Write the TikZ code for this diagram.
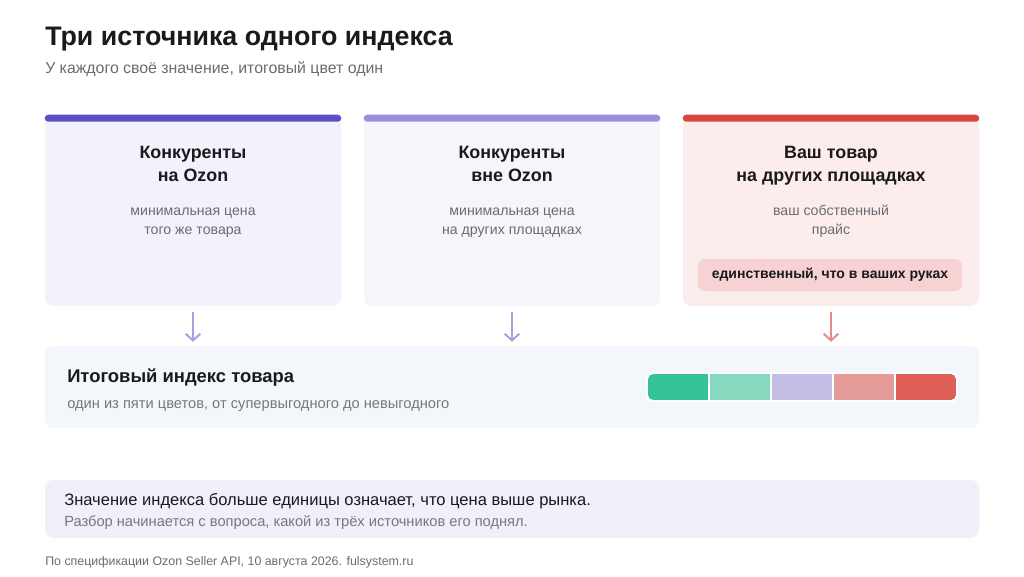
\documentclass[tikz,border=0pt]{standalone}
\usepackage{fontspec}
\setmainfont{Liberation Sans}
\usetikzlibrary{arrows.meta}
\definecolor{ink}{HTML}{1A1A1A}
\definecolor{muted}{HTML}{6B6B73}
\definecolor{mutedb}{HTML}{77777F}
\definecolor{barA}{HTML}{5B4FC6}
\definecolor{barB}{HTML}{9A8FDB}
\definecolor{barC}{HTML}{D9463F}
\definecolor{fillA}{HTML}{F3F2FC}
\definecolor{fillB}{HTML}{F5F5FB}
\definecolor{fillC}{HTML}{FCEDED}
\definecolor{pill}{HTML}{F6D3D2}
\definecolor{idxfill}{HTML}{F3F6FA}
\definecolor{notefill}{HTML}{F0F0FB}
\definecolor{arrP}{HTML}{AA9EDF}
\definecolor{arrR}{HTML}{E58D88}
\definecolor{s1}{HTML}{34C497}
\definecolor{s2}{HTML}{86D9BF}
\definecolor{s3}{HTML}{C4BEE6}
\definecolor{s4}{HTML}{E59C98}
\definecolor{s5}{HTML}{DD5F58}
\tikzset{
  card/.style={rounded corners=6pt, minimum width=222pt, minimum height=143.25pt, inner sep=0pt},
  cardtitle/.style={anchor=base, font=\bfseries\fontsize{13.4}{16}\selectfont, text=ink, inner sep=0pt},
  carddesc/.style={anchor=base, font=\fontsize{10.6}{12.5}\selectfont, text=muted, inner sep=0pt},
  wide/.style={rounded corners=6pt, minimum width=700.5pt, inner sep=0pt},
  arr/.style={line width=1.5pt, -{Straight Barb[length=5pt,width=11pt,line width=1.5pt]}},
}
\begin{document}
\begin{tikzpicture}[x=0.75pt,y=-0.75pt]
\useasboundingbox[fill=white] (0,0) rectangle (1024,576);
% heading
\node[anchor=base west, inner sep=0pt, font=\bfseries\fontsize{20.1}{23}\selectfont, text=ink] (title) at (45,45) {Три источника одного индекса};
\node[anchor=base west, inner sep=0pt, font=\fontsize{11.9}{14}\selectfont, text=muted] (sub) at (45,73) {У каждого своё значение, итоговый цвет один};
% cards
\node[card, fill=fillA] (c1) at (193,210.5) {};
\node[card, fill=fillB] (c2) at (512,210.5) {};
\node[card, fill=fillC] (c3) at (831,210.5) {};
\fill[barA, rounded corners=2.6pt] (c1.north west) rectangle ([yshift=-5.25pt]c1.north east);
\fill[barB, rounded corners=2.6pt] (c2.north west) rectangle ([yshift=-5.25pt]c2.north east);
\fill[barC, rounded corners=2.6pt] (c3.north west) rectangle ([yshift=-5.25pt]c3.north east);
% card texts
\node[cardtitle] (c1t1) at (193,158) {Конкуренты};
\node[cardtitle] (c1t2) at (193,181) {на Ozon};
\node[carddesc] (c1d1) at (193,215) {минимальная цена};
\node[carddesc] (c1d2) at (193,234) {того же товара};
\node[cardtitle] (c2t1) at (512,158) {Конкуренты};
\node[cardtitle] (c2t2) at (512,181) {вне Ozon};
\node[carddesc] (c2d1) at (512,215) {минимальная цена};
\node[carddesc] (c2d2) at (512,234) {на других площадках};
\node[cardtitle] (c3t1) at (831,158) {Ваш товар};
\node[cardtitle] (c3t2) at (831,181) {на других площадках};
\node[carddesc] (c3d1) at (831,215) {ваш собственный};
\node[carddesc] (c3d2) at (831,234) {прайс};
\node[fill=pill, rounded corners=5pt, minimum width=198pt, minimum height=24pt, inner sep=0pt,
      font=\bfseries\fontsize{10.5}{12.5}\selectfont, text=ink] (pill) at (830,275) {единственный, что в ваших руках};
% index box
\node[wide, fill=idxfill, minimum height=61.5pt] (idx) at (512,387) {};
\node[anchor=base west, inner sep=0pt, font=\bfseries\fontsize{13.8}{16}\selectfont, text=ink] (idxt) at (67,382) {Итоговый индекс товара};
\node[anchor=base west, inner sep=0pt, font=\fontsize{11}{13}\selectfont, text=mutedb] (idxs) at (67,408) {один из пяти цветов, от супервыгодного до невыгодного};
% arrows
\draw[arr, arrP] ([yshift=-4.5pt]c1.south) -- ([yshift=3pt]idx.north -| c1.south);
\draw[arr, arrP] ([yshift=-4.5pt]c2.south) -- ([yshift=3pt]idx.north -| c2.south);
\draw[arr, arrR] ([yshift=-4.5pt]c3.south) -- ([yshift=3pt]idx.north -| c3.south);
% colour scale
\fill[white, rounded corners=4pt] (646,372) rectangle (958,402);
\begin{scope}
\clip[rounded corners=4pt] (648,374) rectangle (956,400);
\fill[s1] (648,374) rectangle (707.6,400);
\fill[s2] (710.1,374) rectangle (769.7,400);
\fill[s3] (772.2,374) rectangle (831.8,400);
\fill[s4] (834.3,374) rectangle (893.9,400);
\fill[s5] (896.4,374) rectangle (956,400);
\end{scope}
% note
\node[wide, fill=notefill, minimum height=43.5pt] (note) at (512,509) {};
\node[anchor=base west, inner sep=0pt, font=\fontsize{12.4}{14.5}\selectfont, text=ink] (n1) at (64,505) {Значение индекса больше единицы означает, что цена выше рынка.};
\node[anchor=base west, inner sep=0pt, font=\fontsize{11}{13}\selectfont, text=mutedb] (n2) at (64,526) {Разбор начинается с вопроса, какой из трёх источников его поднял.};
% footer
\node[anchor=base west, inner sep=0pt, font=\fontsize{9.3}{11}\selectfont, text=muted] (foot) at (45,565) {По спецификации Ozon Seller API, 10 августа 2026. fulsystem.ru};
\end{tikzpicture}
\end{document}
